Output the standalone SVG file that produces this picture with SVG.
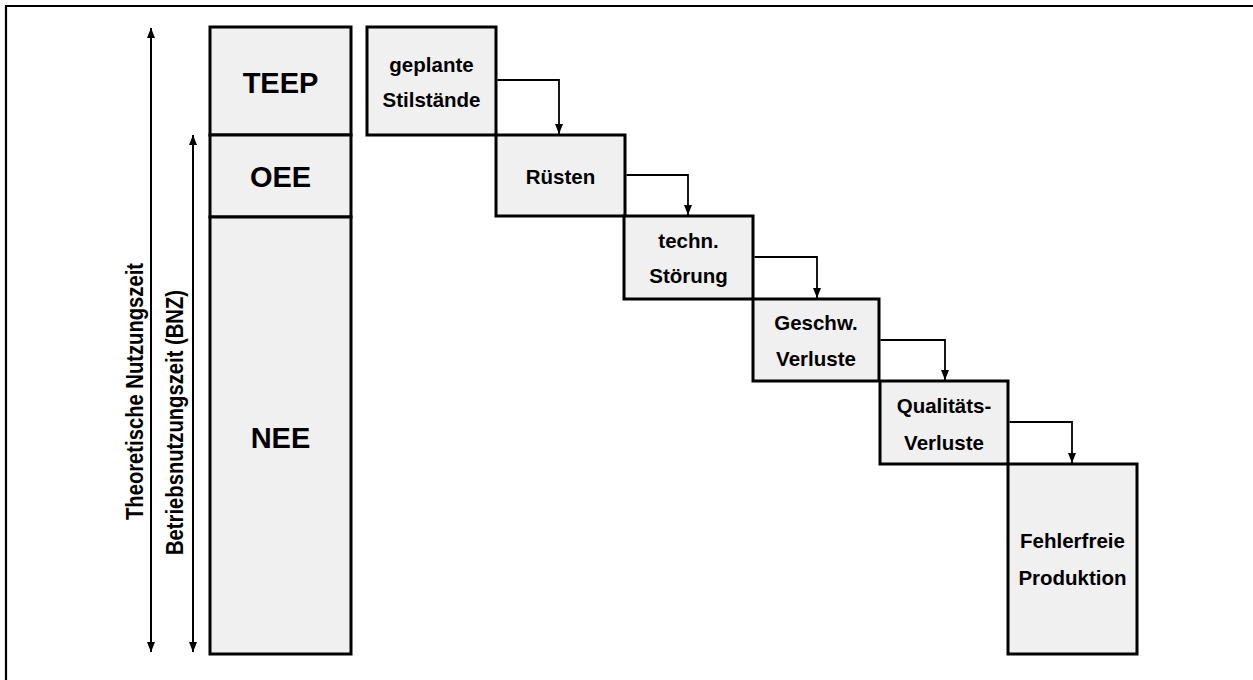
<svg xmlns="http://www.w3.org/2000/svg" width="1253" height="680" viewBox="0 0 1253 680">
  <style>
    .box { fill: #f0f0f0; stroke: #000; stroke-width: 3; }
    .lbl { font-family: "Liberation Sans", Arial, sans-serif; font-weight: bold; fill: #000; text-anchor: middle; }
    .big { font-size: 29px; }
    .step { font-size: 20.5px; }
    .side { font-size: 24px; }
    .conn { fill: none; stroke: #000; stroke-width: 1.8; }
    .span { fill: none; stroke: #000; stroke-width: 2; }
  </style>
  <defs>
    <marker id="arrow" viewBox="0 0 10 8" refX="10" refY="4" markerWidth="10" markerHeight="8" orient="auto-start-reverse" markerUnits="userSpaceOnUse">
      <path d="M0,0 L10,4 L0,8 z" fill="#000"/>
    </marker>
  </defs>

  <rect width="1253" height="680" fill="#fff"/>

  <!-- outer frame (top and left edges) -->
  <path d="M6,680 V6 H1253" fill="none" stroke="#000" stroke-width="2.2"/>

  <!-- span arrows and their rotated labels -->
  <g id="span-theoretisch">
    <line class="span" x1="151" y1="28" x2="151" y2="652" marker-start="url(#arrow)" marker-end="url(#arrow)"/>
    <text class="lbl side" transform="translate(143,391.5) rotate(-90)" textLength="257" lengthAdjust="spacingAndGlyphs">Theoretische Nutzungszeit</text>
  </g>
  <g id="span-bnz">
    <line class="span" x1="193" y1="135" x2="193" y2="652" marker-start="url(#arrow)" marker-end="url(#arrow)"/>
    <text class="lbl side" transform="translate(183,422.5) rotate(-90)" textLength="265" lengthAdjust="spacingAndGlyphs">Betriebsnutzungszeit (BNZ)</text>
  </g>

  <!-- key figure column -->
  <g id="teep">
    <rect class="box" x="210" y="27" width="141" height="108"/>
    <text class="lbl big" x="280.5" y="93">TEEP</text>
  </g>
  <g id="oee">
    <rect class="box" x="210" y="135" width="141" height="82"/>
    <text class="lbl big" x="280.5" y="187">OEE</text>
  </g>
  <g id="nee">
    <rect class="box" x="210" y="217" width="141" height="437"/>
    <text class="lbl big" x="280.5" y="448">NEE</text>
  </g>

  <!-- loss cascade -->
  <g id="geplante-stillstaende">
    <rect class="box" x="367" y="27" width="129" height="108"/>
    <text class="lbl step" x="431.5" y="72">geplante</text>
    <text class="lbl step" x="431.5" y="107">Stilstände</text>
  </g>
  <g id="ruesten">
    <rect class="box" x="496" y="135" width="129" height="81"/>
    <text class="lbl step" x="560.5" y="184">Rüsten</text>
  </g>
  <g id="techn-stoerung">
    <rect class="box" x="624" y="216" width="129" height="83"/>
    <text class="lbl step" x="688.5" y="248">techn.</text>
    <text class="lbl step" x="688.5" y="283">Störung</text>
  </g>
  <g id="geschw-verluste">
    <rect class="box" x="753" y="299" width="126" height="82"/>
    <text class="lbl step" x="816" y="330">Geschw.</text>
    <text class="lbl step" x="816" y="366">Verluste</text>
  </g>
  <g id="qualitaets-verluste">
    <rect class="box" x="880" y="381" width="128" height="83"/>
    <text class="lbl step" x="944" y="413">Qualitäts-</text>
    <text class="lbl step" x="944" y="450">Verluste</text>
  </g>
  <g id="fehlerfreie-produktion">
    <rect class="box" x="1008" y="464" width="129" height="190"/>
    <text class="lbl step" x="1072.5" y="548">Fehlerfreie</text>
    <text class="lbl step" x="1072.5" y="585">Produktion</text>
  </g>

  <!-- connectors between cascade steps -->
  <g id="connectors">
    <path class="conn" d="M497.5,80 H559 V134" marker-end="url(#arrow)"/>
    <path class="conn" d="M626.5,175 H688 V215" marker-end="url(#arrow)"/>
    <path class="conn" d="M754.5,257 H817 V298" marker-end="url(#arrow)"/>
    <path class="conn" d="M880.5,340 H945 V380" marker-end="url(#arrow)"/>
    <path class="conn" d="M1009.5,422 H1072 V463" marker-end="url(#arrow)"/>
  </g>
</svg>
